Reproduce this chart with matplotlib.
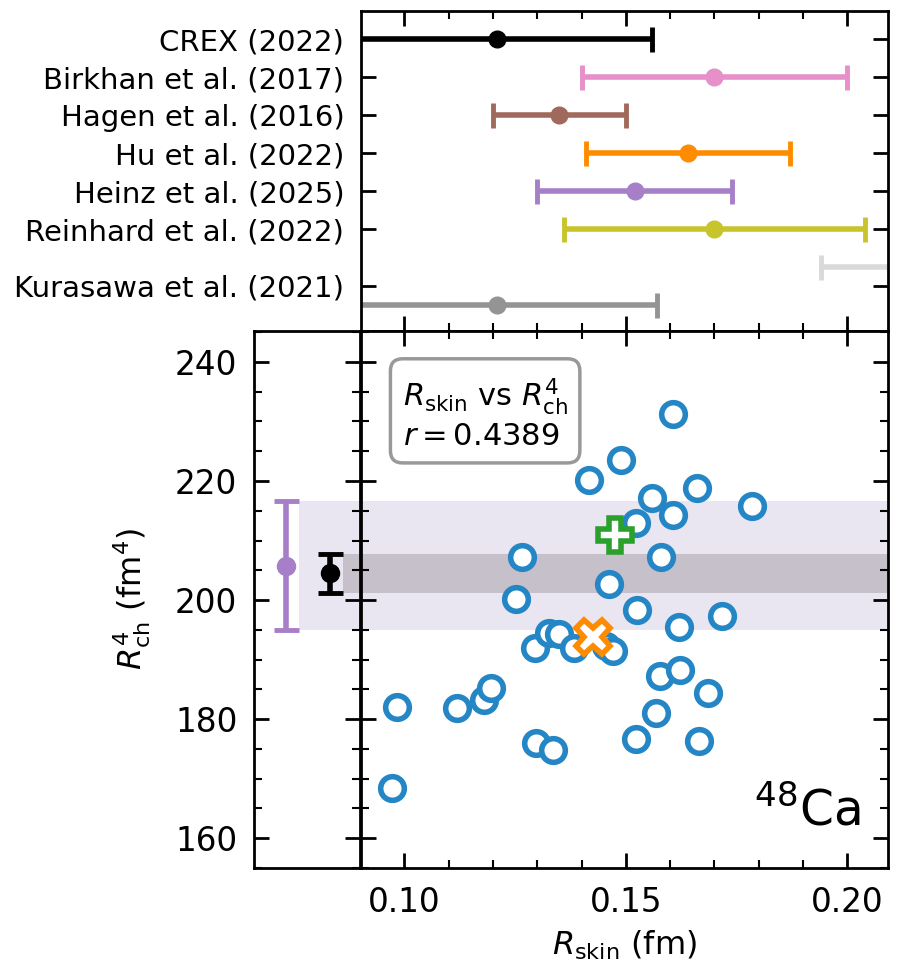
import matplotlib
matplotlib.use("Agg")
import matplotlib.pyplot as plt
from matplotlib.ticker import MultipleLocator

# experimental / theoretical neutron skin values of 48Ca
ref_labels = ["CREX (2022)", "Birkhan et al. (2017)", "Hagen et al. (2016)",
              "Hu et al. (2022)", "Heinz et al. (2025)", "Reinhard et al. (2022)",
              "Kurasawa et al. (2021)"]
ref_label_pos = [7, 6, 5, 4, 3, 2, 0.5]
ref_pos = [7, 6, 5, 4, 3, 2, 1, 0]
ref_skin = [0.121, 0.170, 0.135, 0.164, 0.152, 0.170, 0.240, 0.121]
ref_err_lo = [0.035, 0.030, 0.015, 0.023, 0.022, 0.034, 0.046, 0.035]
ref_err_hi = [0.035, 0.030, 0.015, 0.023, 0.022, 0.034, 0.046, 0.036]
ref_colors = ["black", "#e68fc8", "#a0695b", "#ff8c00", "#a67fc8", "#c8c42c",
              "#d9d9d9", "#949494"]

# model predictions: skin thickness vs fourth moment of charge radius
r_skin = [0.0971, 0.0984, 0.1118, 0.1180, 0.1196, 0.1297, 0.1336, 0.1252, 0.1265,
          0.1294, 0.1326, 0.1349, 0.1384, 0.1417, 0.1455, 0.1472, 0.1461, 0.1490,
          0.1523, 0.1525, 0.1524, 0.1558, 0.1568, 0.1577, 0.1580, 0.1607, 0.1607,
          0.1620, 0.1622, 0.1661, 0.1665, 0.1685, 0.1718, 0.1785]
r_ch4 = [168.4, 182.1, 181.9, 183.2, 185.3, 176.0, 174.8, 200.2, 207.3,
         191.9, 194.4, 194.3, 192.0, 220.2, 192.3, 191.5, 202.7, 223.6,
         212.9, 198.3, 176.6, 217.1, 181.1, 187.3, 207.3, 231.3, 214.3,
         195.5, 188.2, 218.9, 176.3, 184.4, 197.4, 215.8]
plus_pt = (0.1476, 210.9)
cross_pt = (0.1425, 193.8)

# measured R_ch^4 values (purple: wide, black: narrow)
exp_ch4 = [205.8, 204.5]
exp_ch4_err = [10.8, 3.3]
corr_r = 0.4389

plt.rcParams['font.family'] = 'DejaVu Sans'
plt.rcParams['mathtext.fontset'] = 'dejavusans'
plt.rcParams['axes.linewidth'] = 2.0

fig = plt.figure(figsize=(9.2, 9.65), dpi=100)
ax_top = fig.add_axes([0.3924, 0.6570, 0.5728, 0.3316])
ax = fig.add_axes([0.3924, 0.1005, 0.5728, 0.5565])
ax_l = fig.add_axes([0.2761, 0.1005, 0.1152, 0.5565], sharey=ax)

xlim = (0.0902, 0.2092)
ylim = (155.0, 245.2)

# top panel: horizontal error bars
for i in range(len(ref_skin)):
    ax_top.errorbar(ref_skin[i], ref_pos[i],
                    xerr=[[ref_err_lo[i]], [ref_err_hi[i]]],
                    fmt='o', color=ref_colors[i], ms=12, lw=4,
                    capsize=9, capthick=3.5)
ax_top.set_xlim(xlim)
ax_top.set_ylim(-0.69, 7.75)
ax_top.set_yticks(ref_label_pos)
ax_top.set_yticklabels(ref_labels, fontsize=21)
ax_top.xaxis.set_major_locator(MultipleLocator(0.05))
ax_top.xaxis.set_minor_locator(MultipleLocator(0.01))
ax_top.tick_params(axis='x', which='both', direction='in', top=True, bottom=True,
                   labelbottom=False)
ax_top.tick_params(axis='y', which='both', direction='in', left=True, right=True,
                   pad=12)
ax_top.tick_params(which='major', length=11, width=2)
ax_top.tick_params(which='minor', length=5.5, width=1.5)

# shaded bands from the R_ch^4 measurements
band_light = '#e9e6f2'
band_dark = '#c6c0cb'
ax.axhspan(exp_ch4[0] - exp_ch4_err[0], exp_ch4[0] + exp_ch4_err[0], color=band_light, lw=0, zorder=0)
ax.axhspan(exp_ch4[1] - exp_ch4_err[1], exp_ch4[1] + exp_ch4_err[1], color=band_dark, lw=0, zorder=0)

ax.scatter(r_skin, r_ch4, s=290, facecolors='white', edgecolors='#2486c4',
           linewidths=4, zorder=3)
ax.plot(*plus_pt, marker='P', ms=25, mfc='white', mec='#2ca02c', mew=4,
        ls='none', zorder=4)
ax.plot(*cross_pt, marker='X', ms=25, mfc='white', mec='#ff8c00', mew=4,
        ls='none', zorder=4)

ax.text(0.079, 0.916, r'$R_{\rm skin}$ vs $R_{\rm ch}^4$' + '\n' + r'$r = %.4f$' % corr_r,
        transform=ax.transAxes, ha='left', va='top', fontsize=22,
        bbox=dict(boxstyle='round,pad=0.4', fc='white', ec='#999999', lw=2.5))
ax.text(0.947, 0.08, r'$^{48}$Ca', transform=ax.transAxes, ha='right',
        va='baseline', fontsize=35)

ax.set_xlim(xlim)
ax.set_ylim(ylim)
ax.xaxis.set_major_locator(MultipleLocator(0.05))
ax.xaxis.set_minor_locator(MultipleLocator(0.01))
ax.yaxis.set_major_locator(MultipleLocator(20))
ax.yaxis.set_minor_locator(MultipleLocator(5))
ax.tick_params(which='both', direction='in', top=True, bottom=True, left=True,
               right=True, labelleft=False, labelsize=23.5, pad=13)
ax.tick_params(which='major', length=11, width=2)
ax.tick_params(which='minor', length=5.5, width=1.5)
ax.set_xlabel(r'$R_{\rm skin}$ (fm)', fontsize=23)
ax.xaxis.set_label_coords(0.5, -0.112)

# left panel: the R_ch^4 measurements themselves
left_x = [0.30, 0.72]
left_colors = ['#a67fc8', 'black']
ax_l.axhspan(exp_ch4[0] - exp_ch4_err[0], exp_ch4[0] + exp_ch4_err[0], xmin=0.42,
             color=band_light, lw=0, zorder=0)
ax_l.axhspan(exp_ch4[1] - exp_ch4_err[1], exp_ch4[1] + exp_ch4_err[1], xmin=0.84,
             color=band_dark, lw=0, zorder=0)
for i in range(2):
    ax_l.errorbar(left_x[i], exp_ch4[i], yerr=exp_ch4_err[i], fmt='o',
                  color=left_colors[i], ms=13, lw=4, capsize=9, capthick=3.5)
ax_l.set_xlim(0, 1)
ax_l.set_xticks([])
ax_l.tick_params(axis='y', which='both', direction='in', left=True, right=True,
                 labelsize=23.5, pad=12)
ax_l.tick_params(which='major', length=11, width=2)
ax_l.tick_params(which='minor', length=5.5, width=1.5)
ax_l.set_ylabel(r'$R_{\rm ch}^4$ (fm$^4$)', fontsize=23)
ax_l.yaxis.set_label_coords(-0.95, 0.5)

fig.savefig('out.png', dpi=100)
